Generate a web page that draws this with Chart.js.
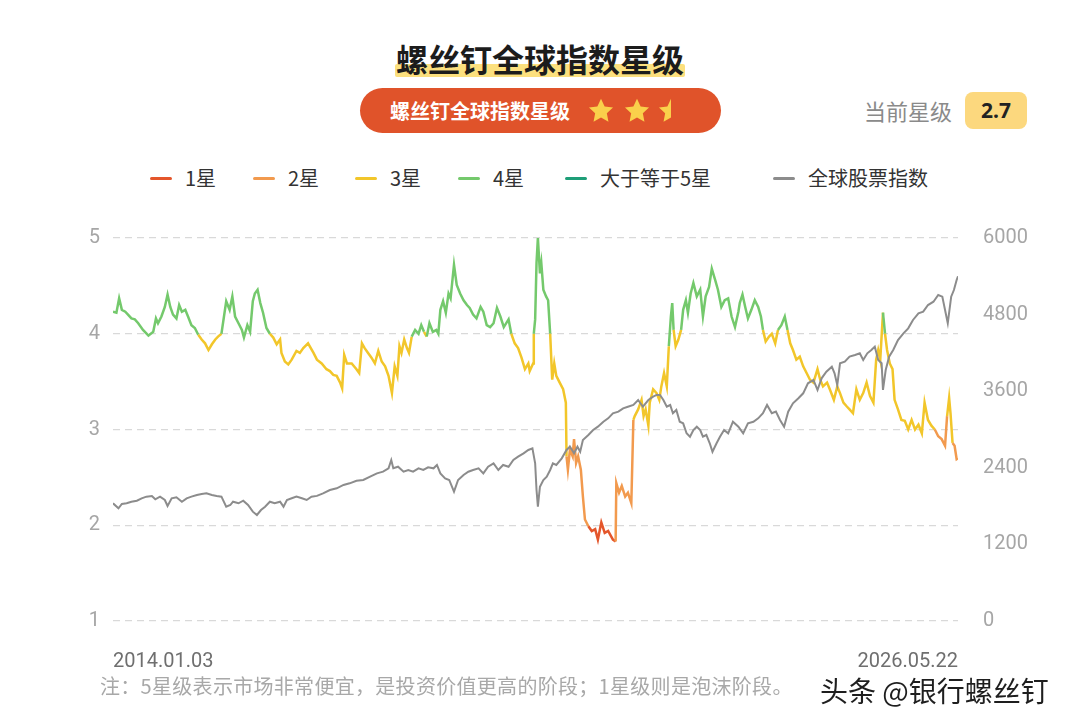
<!DOCTYPE html>
<html lang="zh">
<head>
<meta charset="UTF-8">
<title>螺丝钉全球指数星级</title>
<script src="https://cdn.jsdelivr.net/npm/chart.js"></script>
<style>
    body { margin: 0; width: 1080px; height: 728px; background: #fff; position: relative; overflow: hidden;
           font-family: "Noto Sans CJK SC", "Noto Sans", sans-serif; }
    .abs { position: absolute; }
    .title-mark { left: 395px; top: 64px; width: 290px; height: 13px; background: #FCE07E; border-radius: 2px; }
    .title { left: 0; width: 1080px; top: 38px; line-height: 40px; text-align: center; font-size: 32px; font-weight: 700; color: #1c1c1c; }
    .pill { left: 360px; top: 88px; width: 361px; height: 45px; border-radius: 23px; background: #E0532A; }
    .pill-text { left: 390px; top: 88px; line-height: 45px; font-size: 20px; font-weight: 700; color: #fff; }
    .star { top: 97px; width: 28px; height: 28px; }
    .cur-label { left: 864px; top: 92px; line-height: 37px; font-size: 22px; color: #8a8a8a; }
    .cur-box { left: 965px; top: 92px; width: 62px; height: 37px; line-height: 37px; border-radius: 8px; background: #FCD87E;
               text-align: center; font-size: 21px; font-weight: 700; color: #222; font-family: "Noto Sans", sans-serif; }
    .legend-line { top: 177px; width: 22px; height: 3px; border-radius: 2px; }
    .legend-text { top: 164px; line-height: 28px; font-size: 20px; color: #333; }
    .note { left: 100px; top: 672px; line-height: 28px; font-size: 20px; letter-spacing: 0.3px; color: #a8a8a8; }
    .mark { left: 820px; top: 672px; line-height: 36px; font-size: 28px; color: #1e1e1e; }
    #chartBox { left: 0; top: 200px; width: 1080px; height: 480px; }
</style>
</head>
<body>
    <div class="abs title-mark"></div>
    <div class="abs title">螺丝钉全球指数星级</div>

    <div class="abs pill"></div>
    <div class="abs pill-text">螺丝钉全球指数星级</div>
    <svg class="abs star" style="left:587px" viewBox="0 0 24 24"><path fill="#FAD04B" d="M12 1.5l3.1 6.6 7.2.9-5.3 5 1.4 7.2L12 17.6l-6.4 3.6 1.4-7.2-5.3-5 7.2-.9z"/></svg>
    <svg class="abs star" style="left:623px" viewBox="0 0 24 24"><path fill="#FAD04B" d="M12 1.5l3.1 6.6 7.2.9-5.3 5 1.4 7.2L12 17.6l-6.4 3.6 1.4-7.2-5.3-5 7.2-.9z"/></svg>
    <svg class="abs star" style="left:657px" viewBox="0 0 24 24">
        <defs><clipPath id="half"><rect x="0" y="0" width="12" height="24"/></clipPath></defs>
        <path clip-path="url(#half)" fill="#FAD04B" d="M12 1.5l3.1 6.6 7.2.9-5.3 5 1.4 7.2L12 17.6l-6.4 3.6 1.4-7.2-5.3-5 7.2-.9z"/>
    </svg>

    <div class="abs cur-label">当前星级</div>
    <div class="abs cur-box">2.7</div>

    <div id="legend"></div>

    <div class="abs" id="chartBox"><canvas id="starChart" width="1080" height="480"></canvas></div>

    <div class="abs note">注：5星级表示市场非常便宜，是投资价值更高的阶段；1星级则是泡沫阶段。</div>
    <div class="abs mark">头条 @银行螺丝钉</div>

<script>
// star level (x = decimal year)
const starYears = [
    2014.00,2014.05,2014.09,2014.13,2014.18,2014.22,2014.27,2014.32,2014.37,2014.44,
    2014.52,2014.59,2014.63,2014.66,2014.71,2014.76,2014.80,2014.84,2014.88,2014.93,
    2014.97,2015.01,2015.06,2015.10,2015.15,2015.20,2015.25,2015.30,2015.35,2015.40,
    2015.45,2015.50,2015.54,2015.59,2015.66,2015.71,2015.75,2015.79,2015.84,2015.89,
    2015.92,2015.97,2016.01,2016.05,2016.08,2016.12,2016.16,2016.20,2016.25,2016.30,
    2016.35,2016.40,2016.45,2016.47,2016.52,2016.57,2016.62,2016.69,2016.74,2016.79,
    2016.86,2016.94,2016.99,2017.06,2017.13,2017.18,2017.23,2017.28,2017.33,2017.36,
    2017.39,2017.43,2017.50,2017.57,2017.61,2017.65,2017.69,2017.74,2017.79,2017.84,
    2017.89,2017.94,2017.99,2018.04,2018.09,2018.13,2018.17,2018.20,2018.23,2018.27,
    2018.31,2018.34,2018.38,2018.43,2018.48,2018.52,2018.56,2018.60,2018.64,2018.69,
    2018.74,2018.77,2018.80,2018.84,2018.88,2018.92,2018.95,2018.98,2019.00,2019.04,
    2019.09,2019.14,2019.19,2019.23,2019.28,2019.33,2019.39,2019.43,2019.48,2019.53,
    2019.58,2019.63,2019.68,2019.73,2019.80,2019.84,2019.89,2019.94,2019.99,2020.04,
    2020.09,2020.11,2020.16,2020.17,2020.19,2020.21,2020.23,2020.26,2020.28,2020.31,
    2020.35,2020.38,2020.41,2020.44,2020.47,2020.50,2020.55,2020.60,2020.64,2020.65,
    2020.67,2020.70,2020.74,2020.76,2020.79,2020.82,2020.86,2020.89,2020.92,2020.97,
    2021.02,2021.07,2021.11,2021.16,2021.21,2021.26,2021.33,2021.37,2021.38,2021.42,
    2021.46,2021.51,2021.55,2021.60,2021.63,2021.65,2021.70,2021.75,2021.78,2021.81,
    2021.85,2021.87,2021.92,2021.97,2022.01,2022.04,2022.08,2022.12,2022.15,2022.18,
    2022.20,2022.22,2022.25,2022.29,2022.33,2022.36,2022.40,2022.43,2022.47,2022.51,
    2022.56,2022.61,2022.65,2022.69,2022.74,2022.78,2022.83,2022.87,2022.92,2022.97,
    2023.02,2023.07,2023.12,2023.17,2023.19,2023.23,2023.27,2023.31,2023.36,2023.41,
    2023.46,2023.50,2023.53,2023.57,2023.62,2023.66,2023.71,2023.75,2023.80,2023.85,
    2023.89,2023.93,2023.97,2024.02,2024.07,2024.12,2024.17,2024.22,2024.27,2024.33,
    2024.37,2024.41,2024.47,2024.51,2024.57,2024.62,2024.66,2024.71,2024.76,2024.80,
    2024.85,2024.90,2024.95,2025.00,2025.05,2025.10,2025.15,2025.19,2025.22,2025.25,
    2025.29,2025.32,2025.35,2025.39,2025.43,2025.46,2025.51,2025.56,2025.61,2025.66,
    2025.71,2025.76,2025.81,2025.86,2025.90,2025.95,2026.00,2026.05,2026.10,2026.15,
    2026.20,2026.23,2026.26,2026.28,2026.31,2026.34,2026.37,2026.39
];
const starValues = [
    4.23,4.22,4.37,4.25,4.23,4.20,4.16,4.15,4.11,4.04,
    3.98,4.02,4.16,4.11,4.18,4.28,4.41,4.28,4.20,4.16,
    4.30,4.23,4.25,4.18,4.09,4.06,3.99,3.94,3.90,3.83,
    3.89,3.94,3.97,4.00,4.34,4.25,4.39,4.18,4.11,4.04,
    3.96,4.09,4.02,4.34,4.42,4.46,4.32,4.22,4.06,4.00,
    3.96,3.89,3.94,3.80,3.71,3.68,3.73,3.82,3.80,3.85,
    3.90,3.80,3.73,3.69,3.63,3.61,3.57,3.56,3.49,3.43,
    3.78,3.69,3.69,3.63,3.59,3.90,3.85,3.80,3.75,3.69,
    3.82,3.71,3.66,3.56,3.38,3.66,3.56,3.87,3.80,3.94,
    3.85,3.80,3.97,4.04,4.00,4.09,4.02,3.97,4.11,4.02,
    4.04,4.00,4.25,4.34,4.22,4.42,4.37,4.58,4.72,4.51,
    4.42,4.35,4.30,4.27,4.20,4.16,4.28,4.23,4.09,4.07,
    4.11,4.27,4.18,4.07,4.15,4.00,3.90,3.85,3.75,3.63,
    3.69,3.61,3.69,4.00,4.15,4.74,5.00,4.63,4.74,4.46,
    4.39,4.35,4.00,3.52,3.69,3.56,3.49,3.42,3.28,2.72,
    2.58,2.79,2.72,2.90,2.65,2.72,2.58,2.30,2.06,1.99,
    1.94,1.96,1.85,2.03,1.92,1.94,1.85,1.83,2.44,2.34,
    2.41,2.30,2.34,2.23,3.10,3.14,3.21,3.31,3.14,3.21,
    3.04,3.28,3.42,3.38,3.31,3.45,3.59,3.45,3.87,4.18,
    4.32,4.04,3.87,3.94,4.04,4.25,4.35,4.22,4.42,4.53,
    4.39,4.46,4.18,4.39,4.49,4.68,4.56,4.46,4.28,4.35,
    4.37,4.18,4.07,4.23,4.32,4.41,4.28,4.16,4.25,4.35,
    4.28,4.18,4.04,3.92,3.97,4.00,3.90,4.04,4.09,4.18,
    4.04,3.90,3.83,3.73,3.76,3.66,3.59,3.52,3.49,3.63,
    3.52,3.45,3.49,3.42,3.31,3.45,3.38,3.28,3.24,3.21,
    3.17,3.42,3.31,3.38,3.49,3.35,3.28,3.73,3.83,3.73,
    4.22,4.00,3.83,3.69,3.63,3.31,3.21,3.10,3.09,3.00,
    3.10,3.00,3.05,2.96,3.28,3.10,3.04,3.00,2.93,2.90,
    2.83,3.14,3.33,3.17,2.86,2.83,2.69,2.70
];

// global stock index (right axis)
const indexYears = [
    2014.00,2014.08,2014.13,2014.20,2014.27,2014.35,2014.42,2014.49,2014.57,2014.62,
    2014.69,2014.76,2014.80,2014.86,2014.93,2015.01,2015.08,2015.15,2015.23,2015.30,
    2015.37,2015.45,2015.52,2015.59,2015.66,2015.72,2015.76,2015.84,2015.91,2015.98,
    2016.05,2016.11,2016.17,2016.23,2016.30,2016.37,2016.45,2016.50,2016.55,2016.62,
    2016.69,2016.77,2016.84,2016.91,2016.99,2017.08,2017.18,2017.28,2017.38,2017.47,
    2017.57,2017.67,2017.77,2017.87,2017.96,2018.04,2018.08,2018.11,2018.18,2018.26,
    2018.33,2018.40,2018.48,2018.55,2018.62,2018.70,2018.75,2018.80,2018.87,2018.93,
    2019.00,2019.06,2019.14,2019.21,2019.28,2019.36,2019.43,2019.50,2019.58,2019.65,
    2019.72,2019.80,2019.87,2019.94,2020.02,2020.09,2020.15,2020.19,2020.21,2020.23,
    2020.26,2020.31,2020.36,2020.41,2020.45,2020.50,2020.58,2020.65,2020.70,2020.76,
    2020.81,2020.85,2020.89,2020.97,2021.04,2021.11,2021.19,2021.26,2021.33,2021.41,
    2021.48,2021.55,2021.63,2021.70,2021.77,2021.85,2021.92,2021.97,2022.02,2022.07,
    2022.12,2022.17,2022.21,2022.26,2022.31,2022.36,2022.41,2022.46,2022.51,2022.56,
    2022.61,2022.65,2022.70,2022.75,2022.79,2022.85,2022.90,2022.96,2023.02,2023.09,
    2023.17,2023.24,2023.31,2023.39,2023.46,2023.53,2023.59,2023.66,2023.72,2023.78,
    2023.84,2023.90,2023.97,2024.05,2024.12,2024.19,2024.27,2024.33,2024.39,2024.46,
    2024.54,2024.58,2024.62,2024.66,2024.73,2024.80,2024.88,2024.95,2025.00,2025.06,
    2025.12,2025.17,2025.22,2025.27,2025.29,2025.33,2025.38,2025.44,2025.51,2025.59,
    2025.66,2025.73,2025.81,2025.88,2025.95,2026.03,2026.10,2026.16,2026.21,2026.24,
    2026.29,2026.33,2026.37,2026.39
];
const indexValues = [
    1844,1766,1833,1844,1869,1885,1922,1948,1958,1906,
    1948,1896,1802,1922,1938,1869,1922,1948,1974,1990,
    2000,1974,1958,1948,1791,1817,1869,1844,1885,1817,
    1713,1661,1739,1791,1869,1844,1869,1791,1896,1922,
    1948,1922,1896,1948,1960,2000,2052,2079,2131,2157,
    2198,2209,2261,2313,2339,2392,2522,2392,2417,2339,
    2366,2339,2392,2366,2408,2392,2444,2313,2235,2209,
    2026,2209,2287,2339,2366,2392,2313,2417,2470,2366,
    2444,2417,2522,2574,2627,2679,2705,2470,2052,1791,
    2104,2209,2261,2366,2470,2444,2548,2679,2731,2627,
    2731,2652,2836,2914,2992,3044,3122,3175,3254,3280,
    3332,3357,3384,3462,3357,3462,3514,3541,3541,3462,
    3357,3384,3254,3306,3122,3097,2940,2887,2992,3044,
    2992,2887,2914,2784,2652,2784,2887,2992,2940,3122,
    3044,2940,3097,3122,3175,3254,3384,3254,3280,3149,
    3044,3280,3410,3489,3567,3724,3776,3619,3802,3906,
    3984,3880,3697,4037,4062,4141,4167,4193,4089,4193,
    4245,4298,4089,4037,3619,3932,4141,4245,4402,4507,
    4585,4716,4820,4846,4950,5002,5107,5081,4820,4664,
    5081,5185,5342,5400
];

const dateLabels = ['2014.01.03', '2026.05.22'];
const dateRange = [2014.00, 2026.39];

const legendNames = ['1星', '2星', '3星', '4星', '大于等于5星', '全球股票指数'];
const legendColors = ['#E4562B', '#F29A4E', '#F2C62A', '#74C96C', '#1E9E78', '#8C8C8C'];

// colour of the star line follows its level
function levelColor(v) {
    if (v >= 5) return legendColors[4];
    if (v >= 4) return legendColors[3];
    if (v >= 3) return legendColors[2];
    if (v >= 2) return legendColors[1];
    return legendColors[0];
}

// html legend, spaced like the original
const legendX = [150, 253, 355, 458, 565, 773];
const legendBox = document.getElementById('legend');
legendNames.forEach((name, i) => {
    const line = document.createElement('div');
    line.className = 'abs legend-line';
    line.style.left = legendX[i] + 'px';
    line.style.background = legendColors[i];
    legendBox.appendChild(line);
    const text = document.createElement('div');
    text.className = 'abs legend-text';
    text.style.left = (legendX[i] + 35) + 'px';
    text.textContent = name;
    legendBox.appendChild(text);
});

const tickFont = { family: 'Roboto, "Noto Sans", sans-serif', size: 20 };

new Chart(document.getElementById('starChart'), {
    type: 'line',
    data: {
        datasets: [
            {
                label: '全球股票指数',
                data: indexYears.map((x, i) => ({ x: x, y: indexValues[i] })),
                yAxisID: 'yIndex',
                borderColor: legendColors[5],
                borderWidth: 2,
                pointRadius: 0,
                order: 0
            },
            {
                label: '星级',
                data: starYears.map((x, i) => ({ x: x, y: starValues[i] })),
                yAxisID: 'yStar',
                borderColor: legendColors[3],
                borderWidth: 2.5,
                pointRadius: 0,
                order: 1,
                segment: {
                    borderColor: ctx => levelColor((ctx.p0.parsed.y + ctx.p1.parsed.y) / 2)
                }
            }
        ]
    },
    options: {
        responsive: false,
        animation: false,
        layout: { padding: { top: 38, left: 0, right: 0, bottom: 0 } },
        plugins: {
            legend: { display: false },
            tooltip: { enabled: false }
        },
        scales: {
            x: {
                type: 'linear',
                min: dateRange[0],
                max: dateRange[1],
                grid: { display: false },
                border: { display: false },
                afterBuildTicks: axis => { axis.ticks = [{ value: dateRange[0] }, { value: dateRange[1] }]; },
                afterFit: axis => { axis.height = 59; },
                ticks: {
                    autoSkip: false,
                    maxRotation: 0,
                    align: 'inner',
                    padding: 21,
                    color: '#6f6f6f',
                    font: tickFont,
                    callback: (v, i) => dateLabels[i]
                }
            },
            yStar: {
                position: 'left',
                min: 1,
                max: 5,
                afterFit: axis => { axis.width = 113; },
                grid: { color: '#d9d9d9', lineWidth: 1.2, drawTicks: false },
                border: { display: false, dash: [7, 5] },
                ticks: { stepSize: 1, padding: 13, color: '#a6a6a6', font: tickFont }
            },
            yIndex: {
                position: 'right',
                min: 0,
                max: 6000,
                afterFit: axis => { axis.width = 122; },
                grid: { display: false },
                border: { display: false },
                ticks: { stepSize: 1200, padding: 17, color: '#a6a6a6', font: tickFont, callback: v => String(v) }
            }
        }
    }
});
</script>
</body>
</html>
